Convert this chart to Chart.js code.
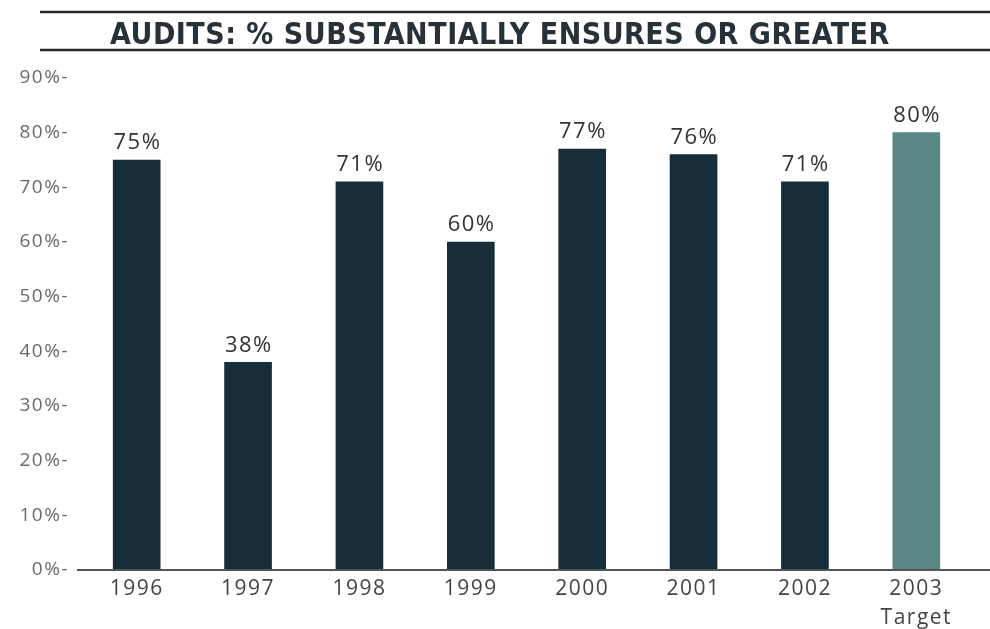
<!DOCTYPE html>
<html>
<head>
<meta charset="utf-8">
<script src="https://cdn.jsdelivr.net/npm/chart.js@4/dist/chart.umd.min.js"></script>
<style>
  html, body { margin: 0; padding: 0; background: #fff; }
  #wrap { width: 990px; height: 629px; position: relative; }
</style>
</head>
<body>
<div id="wrap"><canvas id="auditsChart"></canvas></div>
<script>
// Audit results by year, last bar is the target
const years = ['1996', '1997', '1998', '1999', '2000', '2001', '2002', ['2003', 'Target']];
const pctSubstantial = [75, 38, 71, 60, 77, 76, 71, 80];
const barColors = ['#172d39', '#172d39', '#172d39', '#172d39', '#172d39', '#172d39', '#172d39', '#5b8785'];
const chartTitle = 'AUDITS: % SUBSTANTIALLY ENSURES OR GREATER';

const font = "'Open Sans', 'Noto Sans', sans-serif";
const tracking = 1.5;

// Header band with rules above and below the title
const headerPlugin = {
    id: 'header',
    beforeDraw(chart) {
        const ctx = chart.ctx;
        ctx.save();
        ctx.strokeStyle = '#2b2b2b';
        ctx.lineWidth = 2.5;
        ctx.beginPath();
        ctx.moveTo(40, 12); ctx.lineTo(990, 12);
        ctx.moveTo(40, 50); ctx.lineTo(990, 50);
        ctx.stroke();
        ctx.fillStyle = '#263238';
        ctx.font = "bold 30px 'DejaVu Sans Condensed', sans-serif";
        ctx.textBaseline = 'alphabetic';
        // spread the title so it runs from 110 to 890
        ctx.letterSpacing = '0px';
        const w = ctx.measureText(chartTitle).width;
        ctx.letterSpacing = ((780 - w) / chartTitle.length).toFixed(2) + 'px';
        ctx.fillText(chartTitle, 110, 44);
        ctx.restore();
        // axis text gets a touch of extra tracking
        ctx.letterSpacing = tracking + 'px';
    }
};

// Baseline running under all bars
const baselinePlugin = {
    id: 'baseline',
    afterDatasetsDraw(chart) {
        const ctx = chart.ctx;
        const y = chart.scales.y.getPixelForValue(0);
        ctx.save();
        ctx.strokeStyle = '#555';
        ctx.lineWidth = 2;
        ctx.beginPath();
        ctx.moveTo(77, y);
        ctx.lineTo(990, y);
        ctx.stroke();
        ctx.restore();
    }
};

// Percentage labels on top of each bar
const valueLabels = {
    id: 'valueLabels',
    afterDatasetsDraw(chart) {
        const ctx = chart.ctx;
        const meta = chart.getDatasetMeta(0);
        ctx.save();
        ctx.fillStyle = '#333';
        ctx.font = '22px ' + font;
        ctx.letterSpacing = tracking + 'px';
        ctx.textAlign = 'center';
        ctx.textBaseline = 'bottom';
        meta.data.forEach((bar, i) => {
            ctx.fillText(pctSubstantial[i] + '%', bar.x + tracking / 2, bar.y - 6);
        });
        ctx.restore();
    }
};

new Chart(document.getElementById('auditsChart'), {
    type: 'bar',
    data: {
        labels: years,
        datasets: [{
            data: pctSubstantial,
            backgroundColor: barColors,
            borderWidth: 0,
            barThickness: 47
        }]
    },
    options: {
        responsive: true,
        maintainAspectRatio: false,
        animation: false,
        layout: { padding: { top: 78, right: 18, left: 0, bottom: 0 } },
        plugins: {
            legend: { display: false },
            tooltip: { enabled: false }
        },
        scales: {
            x: {
                grid: { display: false, drawTicks: false },
                border: { display: false },
                ticks: {
                    color: '#444',
                    font: { family: font, size: 21, lineHeight: 1.38 },
                    padding: 5
                },
                afterFit(scale) { scale.height = 59; }
            },
            y: {
                min: 0,
                max: 90,
                grid: { display: false, drawTicks: false },
                border: { display: false },
                ticks: {
                    stepSize: 10,
                    color: '#6a6a6a',
                    font: { family: font, size: 19 },
                    padding: 12,
                    callback: v => v + '%-'
                },
                afterFit(scale) { scale.width = 81; }
            }
        }
    },
    plugins: [headerPlugin, baselinePlugin, valueLabels]
});
</script>
</body>
</html>
